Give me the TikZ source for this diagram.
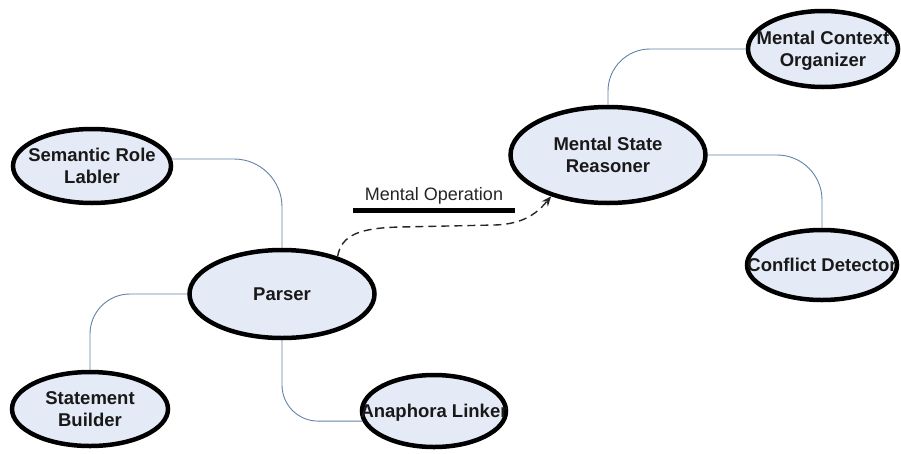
\documentclass[tikz,border=0pt]{standalone}
\usepackage{fontspec}
\setmainfont{Liberation Sans}
\usetikzlibrary{shapes.geometric,arrows.meta}
\definecolor{ellfill}{HTML}{E5EBF6}
\definecolor{connblue}{HTML}{6283A8}
\newcommand{\ltxt}[1]{\raisebox{-2.5pt}[\height][\depth]{\makebox[0pt]{\begin{tabular}{@{}c@{}}#1\end{tabular}}}}
\tikzset{
  ell/.style={ellipse, draw=black, line width=4.5pt, fill=ellfill, inner sep=0pt,
    font=\fontsize{18.5}{22}\selectfont\bfseries, text=black!90},
  conn/.style={draw=connblue, line width=0.9pt},
  dasharrow/.style={draw=black!85, line width=1.4pt, dash pattern=on 8pt off 5pt,
    -{Stealth[length=10pt,width=8pt]}},
  opbar/.style={line width=5pt, draw=black},
  oplabel/.style={font=\fontsize{18}{22}\selectfont, text=black!85, inner sep=0pt}
}
\begin{document}
\begin{tikzpicture}[x=1pt,y=-1pt]
\useasboundingbox (0,0) rectangle (901,453);
% nodes
\node[ell, minimum width=158pt, minimum height=74pt] (sem) at (92,166) {\ltxt{Semantic Role\\Labler}};
\node[ell, minimum width=185pt, minimum height=88pt] (parser) at (282,294) {\ltxt{Parser}};
\node[ell, minimum width=156pt, minimum height=74pt] (stmt) at (90,409) {\ltxt{Statement\\Builder}};
\node[ell, minimum width=144pt, minimum height=72pt] (ana) at (434,411) {\ltxt{Anaphora Linker}};
\node[ell, minimum width=195pt, minimum height=96pt] (msr) at (608,155) {\ltxt{Mental State\\Reasoner}};
\node[ell, minimum width=150pt, minimum height=76pt] (mco) at (823,49) {\ltxt{Mental Context\\Organizer}};
\node[ell, minimum width=150pt, minimum height=70pt] (cd) at (822,265) {\ltxt{Conflict Detector}};
% connectors
\draw[conn, rounded corners=48pt] (sem.5) -| (parser.north);
\draw[conn, rounded corners=40pt] (parser.west) -| (stmt.north);
\draw[conn, rounded corners=36pt] (parser.south) |- (ana.188);
\draw[conn, rounded corners=42pt] (msr.north) |- (mco.west);
\draw[conn, rounded corners=45pt] (msr.east) -| (cd.north);
% mental operation
\node[oplabel, anchor=base] (mo) at (434,200) {Mental Operation};
\draw[opbar] (353,210) -- (515,210);
\draw[dasharrow] (parser.34) .. controls +(4,-22) and (360,228) .. (400,227)
  -- (495,225) .. controls (525,224) and (538,212) .. (msr.216);
\end{tikzpicture}
\end{document}
